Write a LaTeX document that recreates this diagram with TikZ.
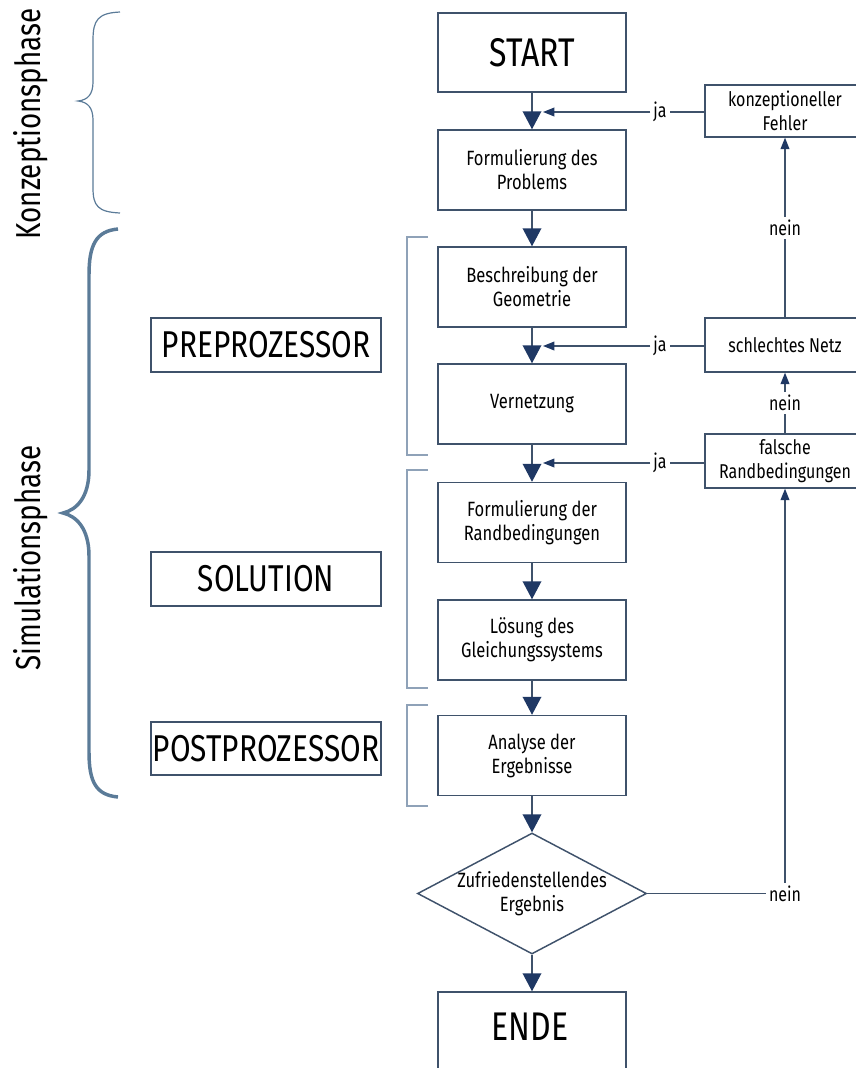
\documentclass[tikz,border=0pt]{standalone}
\usepackage{fontspec}
\setmainfont{Fira Sans}[FakeStretch=0.8]
\usetikzlibrary{arrows.meta,shapes.geometric}
\definecolor{ln}{HTML}{3F526B}
\definecolor{ah}{HTML}{1F3864}
\definecolor{brc}{HTML}{5B7B98}
\definecolor{brk}{HTML}{8FA2B8}
\begin{document}
\begin{tikzpicture}[x=0.75pt,y=-0.75pt,
  box/.style={draw=ln,line width=1.1pt,minimum width=141pt,minimum height=60pt,align=center,inner sep=2pt,font=\fontsize{15.5}{18}\selectfont},
  bigbox/.style={box,font=\fontsize{30}{34}\selectfont},
  sidebox/.style={draw=ln,line width=1pt,minimum width=120pt,minimum height=40.5pt,align=center,inner sep=1pt,font=\fontsize{15}{18}\selectfont},
  phasebox/.style={draw=ln,line width=0.9pt,minimum width=172.5pt,minimum height=40.5pt,inner sep=1pt,font=\fontsize{28}{30}\selectfont},
  lbl/.style={inner sep=2pt,font=\fontsize{15}{18}\selectfont},
  phase/.style={rotate=90,inner sep=0pt,font=\fontsize{26}{28}\selectfont},
  conn/.style={draw=ln,line width=1.1pt},
  bigarrow/.style={conn,-{Triangle[width=14pt,length=13.5pt,fill=ah,color=ah]}},
  smallarrow/.style={conn,-{Triangle[width=6.5pt,length=8.5pt,fill=ah,color=ah]}},
  bracket/.style={draw=brk,line width=0.9pt}
]
\useasboundingbox (0,0) rectangle (856,1068);
\clip (0,0) rectangle (856,1068);

% main column
\node[bigbox,minimum height=59.25pt] (start) at (532,52.5) {START};
\node[box] (prob) at (532,170) {Formulierung des\\Problems};
\node[box] (geo) at (532,287) {Beschreibung der\\Geometrie};
\node[box] (vern) at (532,404) {Vernetzung};
\node[box] (rand) at (532,522.5) {Formulierung der\\Randbedingungen};
\node[box] (loes) at (532,640) {Lösung des\\Gleichungssystems};
\node[box] (anal) at (532,755.5) {Analyse der\\Ergebnisse};
\node[draw=ln,line width=1.1pt,diamond,minimum width=171.75pt,minimum height=90.75pt,inner sep=0pt] (dia) at (532,893.5) {};
\node[align=center,inner sep=0pt,font=\fontsize{15.5}{18}\selectfont] (diat) at (532,893.5) {Zufriedenstellendes\\Ergebnis};
\node[bigbox] (ende) at (532,1032) {};
\node[inner sep=0pt,font=\fontsize{30}{34}\selectfont] (endet) at (530,1027) {ENDE};

% right column
\node[sidebox,minimum height=39pt] (konz) at (785,111) {konzeptioneller\\Fehler};
\node[sidebox] (schl) at (785,345) {schlechtes Netz};
\node[sidebox] (fals) at (785,461) {falsche\\Randbedingungen};

% left labels
\node[phasebox] (pre) at (266,345) {PREPROZESSOR};
\node[phasebox] (sol) at (266,579) {SOLUTION};
\node[phasebox,minimum height=39.75pt] (post) at (266,748.5) {POSTPROZESSOR};

\node[phase] (kph) at (31,124) {Konzeptionsphase};
\node[phase] (sph) at (31,558) {Simulationsphase};

% braces
\draw[brc,line width=0.9pt] (120,12) .. controls (98,13) and (93,20) .. (93,40)
  -- (93,82) .. controls (93,94) and (88,100) .. (78,101)
  .. controls (88,102) and (93,108) .. (93,120)
  -- (93,188) .. controls (93,206) and (98,212) .. (120,213);
\draw[brc,line width=2.6pt] (118,229) .. controls (96,231) and (89,245) .. (89,275)
  -- (89,470) .. controls (89,498) and (76,510) .. (63,513)
  .. controls (76,516) and (89,528) .. (89,556)
  -- (89,752) .. controls (89,782) and (96,795) .. (118,797);

% brackets
\draw[bracket] (428,237) -- (407,237) -- (407,455) -- (428,455);
\draw[bracket] (428,470) -- (407,470) -- (407,688) -- (428,688);
\draw[bracket] (428,705) -- (407,705) -- (407,806) -- (428,806);

% main flow
\draw[bigarrow] (start) -- (prob);
\draw[bigarrow] (prob) -- (geo);
\draw[bigarrow] (geo) -- (vern);
\draw[bigarrow] (vern) -- (rand);
\draw[bigarrow] (rand) -- (loes);
\draw[bigarrow] (loes) -- (anal);
\draw[bigarrow] (anal) -- (dia);
\draw[bigarrow] (dia) -- (ende);

% feedback: ja
\coordinate (j1) at (543,112);
\coordinate (j2) at (543,346);
\coordinate (j3) at (543,463);
\node[lbl] (ja1) at (660,112) {ja};
\node[lbl] (ja2) at (660,346) {ja};
\node[lbl] (ja3) at (660,463) {ja};
\draw[conn] (konz.west |- ja1) -- (ja1.east);
\draw[smallarrow] (ja1.west) -- (j1);
\draw[conn] (schl.west |- ja2) -- (ja2.east);
\draw[smallarrow] (ja2.west) -- (j2);
\draw[conn] (fals.west |- ja3) -- (ja3.east);
\draw[smallarrow] (ja3.west) -- (j3);

% feedback: nein
\node[lbl] (n1) at (785,228) {nein};
\node[lbl] (n2) at (785,403) {nein};
\node[lbl] (n3) at (785,893.5) {nein};
\draw[conn] (schl.north) -- (n1.south);
\draw[smallarrow] (n1.north) -- (konz.south);
\draw[conn] (fals.north) -- (n2.south);
\draw[smallarrow] (n2.north) -- (schl.south);
\draw[conn] (dia.east) -- (n3.west);
\draw[smallarrow] (n3.north) -- (fals.south);
\end{tikzpicture}
\end{document}
